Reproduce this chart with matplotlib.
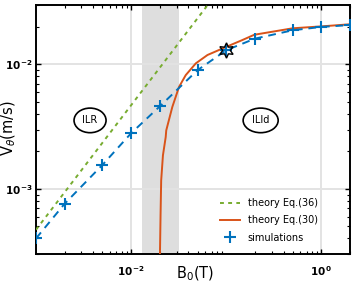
import matplotlib
matplotlib.use("Agg")
import math
import matplotlib.pyplot as plt
from matplotlib.ticker import LogLocator, FixedLocator, NullFormatter, FuncFormatter

# Data
sim_B = [0.001, 0.002, 0.005, 0.01, 0.02, 0.05, 0.1, 0.2, 0.5, 1.0, 2.0]
sim_V = [4.0e-4, 7.6e-4, 1.56e-3, 2.8e-3, 4.6e-3, 9.0e-3, 1.3e-2, 1.61e-2, 1.88e-2, 2.0e-2, 2.07e-2]

eq36_B = [0.001, 0.1]
eq36_V = [4.7e-4, 4.7e-2]

eq30_B = [0.0201, 0.0204, 0.0207, 0.0216, 0.0231, 0.0234, 0.0271, 0.0319, 0.0375,
          0.0479, 0.0635, 0.0993, 0.148, 0.197, 0.5, 1.0, 2.0]
eq30_V = [3.0e-4, 6.3e-4, 1.17e-3, 1.86e-3, 2.61e-3, 2.95e-3, 4.55e-3, 6.6e-3, 8.2e-3,
          1.02e-2, 1.19e-2, 1.38e-2, 1.57e-2, 1.73e-2, 1.95e-2, 2.02e-2, 2.1e-2]

star_B = [0.1]
star_V = [1.3e-2]

band = (0.0129, 0.032)

region_labels = ["ILR", "ILId"]
region_B = [0.0037, 0.23]
region_V = [3.55e-3, 3.55e-3]

c_blue = "#0072BD"
c_orange = "#D95319"
c_green = "#77AC30"

fig = plt.figure(figsize=(3.58, 2.83), dpi=100)
ax = fig.add_axes([36/358, 29/283, 314/358, 249/283])
ax.set_xscale("log")
ax.set_yscale("log")
ax.set_xlim(1e-3, 2)
ax.set_ylim(3e-4, 3e-2)

ax.axvspan(band[0], band[1], color="#dedede", zorder=0, lw=0)

ax.plot(eq36_B, eq36_V, ls=(0, (2, 2.2)), color=c_green, lw=1.4, label="theory Eq.(36)", zorder=3)
ax.plot(eq30_B, eq30_V, ls="-", color=c_orange, lw=1.4, label="theory Eq.(30)", zorder=3)
ax.plot(sim_B, sim_V, ls=(0, (4, 3)), color=c_blue, lw=1.4, zorder=4)
ax.plot(sim_B, sim_V, ls="none", marker="+", ms=8, mew=1.5, color=c_blue,
        label="simulations", zorder=5)
ax.plot(star_B, star_V, ls="none", marker=(6, 1, 0), ms=11, mfc="none", mec="black",
        mew=1.0, zorder=6)

for lab, bx, vy in zip(region_labels, region_B, region_V):
    ax.text(bx, vy, lab, ha="center", va="center", fontsize=7, zorder=7,
            bbox=dict(boxstyle="ellipse,pad=0.38", fc="white", ec="black", lw=1.2))

ax.xaxis.set_major_locator(FixedLocator([1e-2, 1e0]))
ax.yaxis.set_major_locator(FixedLocator([1e-3, 1e-2]))
ax.xaxis.set_minor_locator(LogLocator(base=10, subs=range(2, 10), numticks=20))
ax.yaxis.set_minor_locator(LogLocator(base=10, subs=range(2, 10), numticks=20))
ax.xaxis.set_minor_formatter(NullFormatter())
ax.yaxis.set_minor_formatter(NullFormatter())


def fmt(v, pos):
    e = int(round(math.log10(v)))
    return r"$\mathbf{10}^{\,\mathbf{%d}}$" % e


ax.xaxis.set_major_formatter(FuncFormatter(fmt))
ax.yaxis.set_major_formatter(FuncFormatter(fmt))

ax.grid(True, which="major", color="#e3e3e3", lw=1.4, zorder=1)
ax.set_axisbelow(True)

ax.tick_params(which="both", direction="in", top=True, right=True, color="black")
ax.tick_params(which="major", length=3.5, width=1.0, labelsize=7.5)
ax.tick_params(axis="x", which="major", pad=7)
ax.tick_params(axis="y", which="major", pad=2)
ax.tick_params(which="minor", length=2, width=0.8)
for s in ax.spines.values():
    s.set_linewidth(1.4)
    s.set_color("black")

fig.text(195/358, 1 - 274/283, r"B$_0$(T)", fontsize=10.5, ha="center", va="center")
fig.text(9/358, 1 - 128/283, r"V$_\theta$(m/s)", fontsize=10.5, ha="center", va="center",
         rotation=90)

leg = ax.legend(loc="lower right", frameon=False, fontsize=7.0, handlelength=2.0,
                bbox_to_anchor=(0.925, 0.01), labelspacing=0.75, handletextpad=0.8)

fig.savefig("out.png", dpi=100)
